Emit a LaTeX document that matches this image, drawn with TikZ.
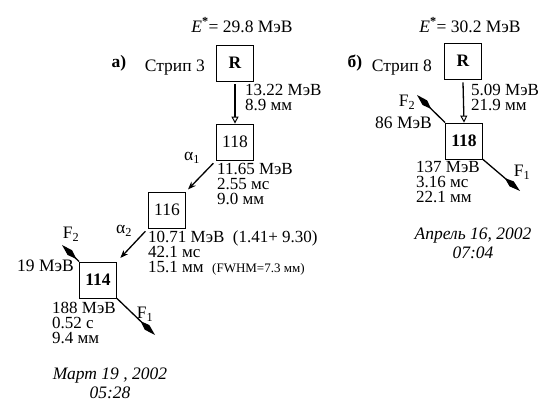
\documentclass[tikz,border=0pt]{standalone}
\usepackage{fontspec}
\setmainfont{Liberation Serif}
\usetikzlibrary{arrows.meta}
\begin{document}
\begin{tikzpicture}[x=1pt,y=-1pt,
  nucl/.style={draw, line width=0.8pt, minimum width=37pt, minimum height=36pt, inner sep=0pt, font=\fontsize{17.5}{17.5}\selectfont},
  txt/.style={inner sep=0pt, font=\fontsize{17}{15}\selectfont, align=left},
  lbl/.style={inner sep=0pt, font=\fontsize{17.5}{15}\selectfont},
  dates/.style={inner sep=0pt, font=\fontsize{17.5}{19}\selectfont\itshape, align=center},
  decay/.style={line width=1.3pt, -{Triangle[open, length=7pt, width=7pt, line width=1pt]}},
  alpha/.style={line width=1.3pt, -{Stealth[length=8pt, width=6pt]}},
  fiss/.style={line width=1.3pt, -{Kite[length=20pt, width=6.5pt, inset=9pt]}}]
\useasboundingbox (0,0) rectangle (543,403);
% ---------- panel a ----------
\node[lbl] (E1) at (242,25) {\textit{E}\textsuperscript{\textbf{*}}= 29.8 МэВ};
\node[lbl] (pa) at (119,63) {\textbf{а)}};
\node[lbl, anchor=east] (s3) at (205,68) {Стрип 3};
\node[nucl] (R1) at (235,63) {\textbf{R}};
\node[nucl] (A118) at (235,142) {118};
\node[nucl] (A116) at (167,210) {116};
\node[nucl] (A114) at (98,280) {\textbf{114}};
\draw[decay] (R1.south) ++(0,3) coordinate (r1s) -- (A118.north);
\node[txt, anchor=north west] (t1) at (245,84) {13.22 МэВ\\8.9 мм};
\draw[alpha, shorten <=4pt, shorten >=3pt] (A118.south west) -- (A116.north east);
\node[lbl] (al1) at (192,158) {α\textsubscript{1}};
\node[txt, anchor=north west] (t2) at (217,163) {11.65 МэВ\\2.55 мс\\9.0 мм};
\draw[alpha, shorten <=4pt, shorten >=5pt] (A116.south west) -- (A114.north east);
\node[lbl] (al2) at (124,231) {α\textsubscript{2}};
\node[txt, anchor=north west] (t3) at (148,231) {10.71 МэВ\ \ (1.41+ 9.30)\\42.1 мс\\15.1 мм\ \ {\fontsize{13}{13}\selectfont(FWHM=7.3 мм)}};
\coordinate (f2a) at (62,245);
\coordinate (f1a) at (155,335);
\draw[fiss] (A114.north west) -- (f2a);
\draw[fiss] (A114.south east) -- (f1a);
\node[lbl] (F2a) at (71,234) {F\textsubscript{2}};
\node[lbl, anchor=east] (e19) at (74,266) {19 МэВ};
\node[lbl] (F1a) at (145,314) {F\textsubscript{1}};
\node[txt, anchor=north west] (t4) at (52,302) {188 МэВ\\0.52 с\\9.4 мм};
\node[dates] (d1) at (110,383) {Март 19 , 2002\\05:28};
% ---------- panel b ----------
\node[lbl] (E2) at (470,25) {\textit{E}\textsuperscript{\textbf{*}}= 30.2 МэВ};
\node[lbl] (pb) at (355,63) {\textbf{б)}};
\node[lbl, anchor=east] (s8) at (432,68) {Стрип 8};
\node[nucl] (R2) at (463,61) {\textbf{R}};
\node[nucl] (B118) at (464,141) {\textbf{118}};
\draw[decay] (R2.south) ++(0,3) coordinate (r2s) -- (B118.north);
\node[txt, anchor=north west] (t5) at (471,84) {5.09 МэВ\\21.9 мм};
\coordinate (f2b) at (417,95);
\coordinate (f1b) at (520,191);
\draw[fiss] (B118.north west) -- (f2b);
\draw[fiss] (B118.south east) -- (f1b);
\node[lbl] (F2b) at (407,102) {F\textsubscript{2}};
\node[lbl, anchor=east] (e86) at (432,123) {86 МэВ};
\node[lbl] (F1b) at (522,172) {F\textsubscript{1}};
\node[txt, anchor=north west] (t6) at (416,161) {137 МэВ\\3.16 мс\\22.1 мм};
\node[dates] (d2) at (473,243) {Апрель 16, 2002\\07:04};
\end{tikzpicture}
\end{document}
